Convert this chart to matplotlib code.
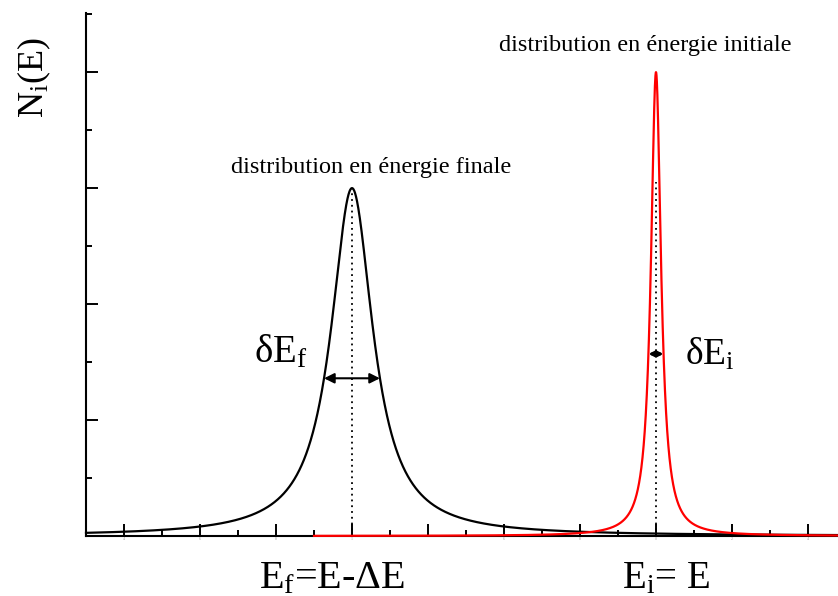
import numpy as np
import matplotlib
matplotlib.use("Agg")
import matplotlib.pyplot as plt
from matplotlib.ticker import MultipleLocator

plt.rcParams['font.family'] = ['Liberation Serif', 'DejaVu Serif']
plt.rcParams['mathtext.fontset'] = 'stix'

# energy axis range and the two line shapes (Lorentzian profiles)
x_range = (3.0, 22.79)
final_center, final_height, final_gamma = 10.0, 6.0, 0.67
init_center, init_height, init_gamma = 18.0, 8.0, 0.16
init_start = 9.0

# levels where the widths are marked
final_arrow_level = 2.72
init_arrow_level = 3.14

x_ticks_major = [4, 6, 8, 10, 12, 14, 16, 18, 20, 22]
x_tick_labels = ['4', '6', '8', '1', '', '6', '8', '0', '2', '4']


def lorentz(x, x0, a, g):
    return a / (1 + ((x - x0) / g) ** 2)


def half_span(a, g, level):
    return g * np.sqrt(a / level - 1)


fig = plt.figure(figsize=(8.38, 5.96), dpi=100)
ax = fig.add_axes([86 / 838, 1 - 536 / 596, 1 - 86 / 838, (536 - 13) / 596])

xf = np.linspace(x_range[0], x_range[1], 3000)
xi = np.linspace(init_start, x_range[1], 6000)
ax.plot(xf, lorentz(xf, final_center, final_height, final_gamma),
        color='black', lw=1.6, zorder=4, clip_on=False)
ax.plot(xi, lorentz(xi, init_center, init_height, init_gamma),
        color='#ff0000', lw=1.6, zorder=5, clip_on=False)

# dotted lines from the peaks down to the axis
ax.plot([final_center, final_center], [0, final_height], color='black',
        ls=(0, (1, 2.2)), lw=1.3, zorder=3)
ax.plot([init_center, init_center], [0, 6.1], color='black',
        ls=(0, (1, 2.2)), lw=1.3, zorder=3)

# width arrows
d = half_span(final_height, final_gamma, final_arrow_level)
ax.annotate('', xy=(final_center - d, final_arrow_level),
            xytext=(final_center + d, final_arrow_level),
            arrowprops=dict(arrowstyle='<|-|>', color='black', lw=1.5,
                            mutation_scale=15, shrinkA=0, shrinkB=0))
d = half_span(init_height, init_gamma, init_arrow_level)
ax.annotate('', xy=(init_center - d, init_arrow_level),
            xytext=(init_center + d, init_arrow_level),
            arrowprops=dict(arrowstyle='<|-|>', color='black', lw=2,
                            mutation_scale=8, shrinkA=0, shrinkB=0))

# annotations
ax.text(10.5, 6.26, 'distribution en énergie finale', fontsize=17.5,
        ha='center', va='baseline')
ax.text(17.71, 8.36, 'distribution en énergie initiale', fontsize=17.5,
        ha='center', va='baseline')
ax.text(7.42, 3.0, r'$\mathregular{δE_f}$', fontsize=28, ha='left', va='baseline')
ax.text(18.76, 2.95, r'$\mathregular{δE_i}$', fontsize=27, ha='left', va='baseline')
ax.text(7.55, -0.9, r'$\mathregular{E_f}$=E-ΔE', fontsize=29, ha='left',
        va='baseline', clip_on=False)
ax.text(17.1, -0.9, r'$\mathregular{E_i}$= E', fontsize=28, ha='left',
        va='baseline', clip_on=False)
fig.text(34 / 838, 1 - 78 / 596, r'$\mathregular{N_i(E)}$', fontsize=26,
         rotation=90, ha='center', va='center')

ax.set_xlim(*x_range)
ax.set_ylim(0, 9.02)
for s in ['top', 'right']:
    ax.spines[s].set_visible(False)
for s in ['left', 'bottom']:
    ax.spines[s].set_linewidth(1.5)

ax.set_xticks(x_ticks_major)
ax.set_xticklabels(x_tick_labels)
ax.xaxis.set_minor_locator(MultipleLocator(1))
ax.set_yticks([0, 2, 4, 6, 8])
ax.set_yticklabels([])
ax.yaxis.set_minor_locator(MultipleLocator(1))
ax.tick_params(which='major', direction='in', length=8.5, width=1.4,
               labelsize=3, labelcolor='#999999', pad=1)
ax.tick_params(which='minor', direction='in', length=4.3, width=1.4)

fig.savefig('out.png', dpi=100)
